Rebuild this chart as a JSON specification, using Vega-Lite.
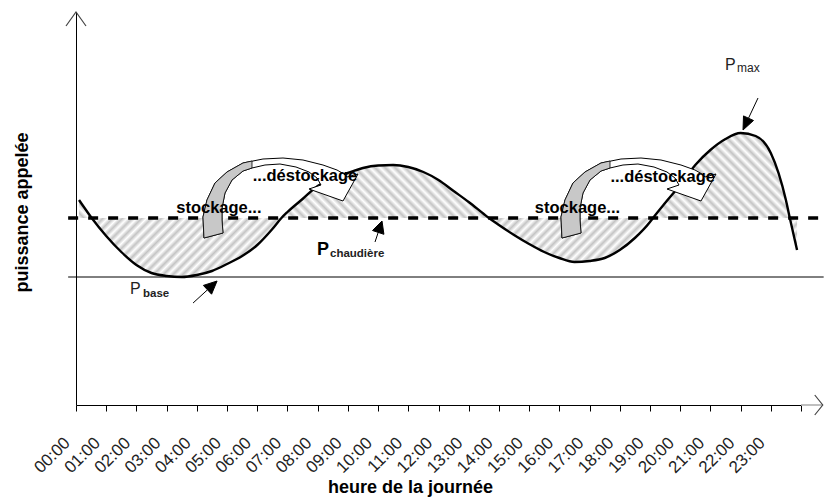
{
"$schema":"https://vega.github.io/schema/vega-lite/v6.json",
"width":725,"height":393,
"autosize":{"type":"none"},
"padding":{"left":76,"top":12,"right":23,"bottom":93},
"background":"white",
"config":{"view":{"stroke":null},"font":"Liberation Sans",
 "axisX":{"orient":"bottom","values":[0,1,2,3,4,5,6,7,8,9,10,11,12,13,14,15,16,17,18,19,20,21,22,23,24],"tickCount":30,
    "labelExpr":"datum.value < 24 ? (datum.value < 10 ? '0' : '') + datum.value + ':00' : ''",
    "labelAngle":-45,"labelAlign":"right","labelBaseline":"middle","labelFont":"Liberation Sans","labelFontSize":17,"labelColor":"#222","labelPadding":29,"labelOffset":-9,"labelOverlap":false,"labelFlush":false,"labelBound":false,
    "tickSize":6,"tickColor":"#000","tickWidth":1,"domainColor":"#000","domainWidth":1,"grid":false,
    "titleFont":"Liberation Sans","titleFontSize":18,"titleFontWeight":"bold","titleColor":"#000","titleX":334,"titleY":87,"titleBaseline":"alphabetic","titleAlign":"center"}},
"datasets":{"curve":[{"h":0.1,"v":205},{"h":0.52,"v":187},{"h":1,"v":169},{"h":1.5,"v":153},{"h":2,"v":140},{"h":2.5,"v":132},{"h":3,"v":129},{"h":3.5,"v":128},{"h":4,"v":130},{"h":4.5,"v":134},{"h":5,"v":141},{"h":5.5,"v":149},{"h":6,"v":160},{"h":6.5,"v":176},{"h":6.8,"v":187},{"h":7,"v":193},{"h":7.5,"v":206},{"h":8,"v":219},{"h":8.5,"v":226},{"h":9,"v":232},{"h":9.5,"v":237},{"h":10,"v":239.5},{"h":10.5,"v":240},{"h":11,"v":238},{"h":11.5,"v":233},{"h":12,"v":225},{"h":12.5,"v":214},{"h":13,"v":203},{"h":13.5,"v":191},{"h":13.67,"v":187},{"h":14,"v":180},{"h":14.5,"v":170},{"h":15,"v":161},{"h":15.5,"v":153},{"h":16,"v":147},{"h":16.5,"v":143},{"h":17,"v":144},{"h":17.5,"v":147},{"h":18,"v":155},{"h":18.5,"v":167},{"h":19,"v":183},{"h":19.1,"v":187},{"h":19.5,"v":202},{"h":20,"v":220},{"h":20.5,"v":240},{"h":21,"v":255},{"h":21.5,"v":266},{"h":22,"v":272},{"h":22.5,"v":269},{"h":23,"v":252},{"h":23.5,"v":205},{"h":23.63,"v":187},{"h":23.87,"v":155}]},
"layer":[
{"data":{"name":"curve"},
 "mark":{"type":"area","interpolate":"monotone","fill":{"gradient":"linear","x1":0,"y1":1,"x2":1.1029,"y2":0.8695,"stops":[
{"offset":0,"color":"#fff"},{"offset":0.00625,"color":"#c4c4c4"},{"offset":0.0125,"color":"#fff"},{"offset":0.01875,"color":"#c4c4c4"},{"offset":0.025,"color":"#fff"},{"offset":0.03125,"color":"#c4c4c4"},{"offset":0.0375,"color":"#fff"},{"offset":0.04375,"color":"#c4c4c4"},{"offset":0.05,"color":"#fff"},{"offset":0.05625,"color":"#c4c4c4"},{"offset":0.0625,"color":"#fff"},{"offset":0.06875,"color":"#c4c4c4"},{"offset":0.075,"color":"#fff"},{"offset":0.08125,"color":"#c4c4c4"},{"offset":0.0875,"color":"#fff"},{"offset":0.09375,"color":"#c4c4c4"},
{"offset":0.1,"color":"#fff"},{"offset":0.10625,"color":"#c4c4c4"},{"offset":0.1125,"color":"#fff"},{"offset":0.11875,"color":"#c4c4c4"},{"offset":0.125,"color":"#fff"},{"offset":0.13125,"color":"#c4c4c4"},{"offset":0.1375,"color":"#fff"},{"offset":0.14375,"color":"#c4c4c4"},{"offset":0.15,"color":"#fff"},{"offset":0.15625,"color":"#c4c4c4"},{"offset":0.1625,"color":"#fff"},{"offset":0.16875,"color":"#c4c4c4"},{"offset":0.175,"color":"#fff"},{"offset":0.18125,"color":"#c4c4c4"},{"offset":0.1875,"color":"#fff"},{"offset":0.19375,"color":"#c4c4c4"},
{"offset":0.2,"color":"#fff"},{"offset":0.20625,"color":"#c4c4c4"},{"offset":0.2125,"color":"#fff"},{"offset":0.21875,"color":"#c4c4c4"},{"offset":0.225,"color":"#fff"},{"offset":0.23125,"color":"#c4c4c4"},{"offset":0.2375,"color":"#fff"},{"offset":0.24375,"color":"#c4c4c4"},{"offset":0.25,"color":"#fff"},{"offset":0.25625,"color":"#c4c4c4"},{"offset":0.2625,"color":"#fff"},{"offset":0.26875,"color":"#c4c4c4"},{"offset":0.275,"color":"#fff"},{"offset":0.28125,"color":"#c4c4c4"},{"offset":0.2875,"color":"#fff"},{"offset":0.29375,"color":"#c4c4c4"},
{"offset":0.3,"color":"#fff"},{"offset":0.30625,"color":"#c4c4c4"},{"offset":0.3125,"color":"#fff"},{"offset":0.31875,"color":"#c4c4c4"},{"offset":0.325,"color":"#fff"},{"offset":0.33125,"color":"#c4c4c4"},{"offset":0.3375,"color":"#fff"},{"offset":0.34375,"color":"#c4c4c4"},{"offset":0.35,"color":"#fff"},{"offset":0.35625,"color":"#c4c4c4"},{"offset":0.3625,"color":"#fff"},{"offset":0.36875,"color":"#c4c4c4"},{"offset":0.375,"color":"#fff"},{"offset":0.38125,"color":"#c4c4c4"},{"offset":0.3875,"color":"#fff"},{"offset":0.39375,"color":"#c4c4c4"},
{"offset":0.4,"color":"#fff"},{"offset":0.40625,"color":"#c4c4c4"},{"offset":0.4125,"color":"#fff"},{"offset":0.41875,"color":"#c4c4c4"},{"offset":0.425,"color":"#fff"},{"offset":0.43125,"color":"#c4c4c4"},{"offset":0.4375,"color":"#fff"},{"offset":0.44375,"color":"#c4c4c4"},{"offset":0.45,"color":"#fff"},{"offset":0.45625,"color":"#c4c4c4"},{"offset":0.4625,"color":"#fff"},{"offset":0.46875,"color":"#c4c4c4"},{"offset":0.475,"color":"#fff"},{"offset":0.48125,"color":"#c4c4c4"},{"offset":0.4875,"color":"#fff"},{"offset":0.49375,"color":"#c4c4c4"},
{"offset":0.5,"color":"#fff"},{"offset":0.50625,"color":"#c4c4c4"},{"offset":0.5125,"color":"#fff"},{"offset":0.51875,"color":"#c4c4c4"},{"offset":0.525,"color":"#fff"},{"offset":0.53125,"color":"#c4c4c4"},{"offset":0.5375,"color":"#fff"},{"offset":0.54375,"color":"#c4c4c4"},{"offset":0.55,"color":"#fff"},{"offset":0.55625,"color":"#c4c4c4"},{"offset":0.5625,"color":"#fff"},{"offset":0.56875,"color":"#c4c4c4"},{"offset":0.575,"color":"#fff"},{"offset":0.58125,"color":"#c4c4c4"},{"offset":0.5875,"color":"#fff"},{"offset":0.59375,"color":"#c4c4c4"},
{"offset":0.6,"color":"#fff"},{"offset":0.60625,"color":"#c4c4c4"},{"offset":0.6125,"color":"#fff"},{"offset":0.61875,"color":"#c4c4c4"},{"offset":0.625,"color":"#fff"},{"offset":0.63125,"color":"#c4c4c4"},{"offset":0.6375,"color":"#fff"},{"offset":0.64375,"color":"#c4c4c4"},{"offset":0.65,"color":"#fff"},{"offset":0.65625,"color":"#c4c4c4"},{"offset":0.6625,"color":"#fff"},{"offset":0.66875,"color":"#c4c4c4"},{"offset":0.675,"color":"#fff"},{"offset":0.68125,"color":"#c4c4c4"},{"offset":0.6875,"color":"#fff"},{"offset":0.69375,"color":"#c4c4c4"},
{"offset":0.7,"color":"#fff"},{"offset":0.70625,"color":"#c4c4c4"},{"offset":0.7125,"color":"#fff"},{"offset":0.71875,"color":"#c4c4c4"},{"offset":0.725,"color":"#fff"},{"offset":0.73125,"color":"#c4c4c4"},{"offset":0.7375,"color":"#fff"},{"offset":0.74375,"color":"#c4c4c4"},{"offset":0.75,"color":"#fff"},{"offset":0.75625,"color":"#c4c4c4"},{"offset":0.7625,"color":"#fff"},{"offset":0.76875,"color":"#c4c4c4"},{"offset":0.775,"color":"#fff"},{"offset":0.78125,"color":"#c4c4c4"},{"offset":0.7875,"color":"#fff"},{"offset":0.79375,"color":"#c4c4c4"},
{"offset":0.8,"color":"#fff"},{"offset":0.80625,"color":"#c4c4c4"},{"offset":0.8125,"color":"#fff"},{"offset":0.81875,"color":"#c4c4c4"},{"offset":0.825,"color":"#fff"},{"offset":0.83125,"color":"#c4c4c4"},{"offset":0.8375,"color":"#fff"},{"offset":0.84375,"color":"#c4c4c4"},{"offset":0.85,"color":"#fff"},{"offset":0.85625,"color":"#c4c4c4"},{"offset":0.8625,"color":"#fff"},{"offset":0.86875,"color":"#c4c4c4"},{"offset":0.875,"color":"#fff"},{"offset":0.88125,"color":"#c4c4c4"},{"offset":0.8875,"color":"#fff"},{"offset":0.89375,"color":"#c4c4c4"},
{"offset":0.9,"color":"#fff"},{"offset":0.90625,"color":"#c4c4c4"},{"offset":0.9125,"color":"#fff"},{"offset":0.91875,"color":"#c4c4c4"},{"offset":0.925,"color":"#fff"},{"offset":0.93125,"color":"#c4c4c4"},{"offset":0.9375,"color":"#fff"},{"offset":0.94375,"color":"#c4c4c4"},{"offset":0.95,"color":"#fff"},{"offset":0.95625,"color":"#c4c4c4"},{"offset":0.9625,"color":"#fff"},{"offset":0.96875,"color":"#c4c4c4"},{"offset":0.975,"color":"#fff"},{"offset":0.98125,"color":"#c4c4c4"},{"offset":0.9875,"color":"#fff"},{"offset":0.99375,"color":"#c4c4c4"},
{"offset":1,"color":"#fff"}]}},
 "encoding":{
  "x":{"field":"h","type":"quantitative","scale":{"domain":[0,24],"nice":false,"zero":false},
   "axis":{"values":[0,1,2,3,4,5,6,7,8,9,10,11,12,13,14,15,16,17,18,19,20,21,22,23,24],"tickCount":30,"title":"heure de la journée"}},
  "y":{"field":"v","type":"quantitative","scale":{"domain":[187,393],"range":[206,0],"clamp":true,"nice":false,"zero":false},"axis":null},
  "y2":{"datum":187}}},
{"data":{"name":"curve"},
 "mark":{"type":"area","interpolate":"monotone","fill":{"gradient":"linear","x1":0,"y1":0,"x2":1.0748,"y2":0.0883,"stops":[
{"offset":0,"color":"#fff"},{"offset":0.00625,"color":"#c4c4c4"},{"offset":0.0125,"color":"#fff"},{"offset":0.01875,"color":"#c4c4c4"},{"offset":0.025,"color":"#fff"},{"offset":0.03125,"color":"#c4c4c4"},{"offset":0.0375,"color":"#fff"},{"offset":0.04375,"color":"#c4c4c4"},{"offset":0.05,"color":"#fff"},{"offset":0.05625,"color":"#c4c4c4"},{"offset":0.0625,"color":"#fff"},{"offset":0.06875,"color":"#c4c4c4"},{"offset":0.075,"color":"#fff"},{"offset":0.08125,"color":"#c4c4c4"},{"offset":0.0875,"color":"#fff"},{"offset":0.09375,"color":"#c4c4c4"},
{"offset":0.1,"color":"#fff"},{"offset":0.10625,"color":"#c4c4c4"},{"offset":0.1125,"color":"#fff"},{"offset":0.11875,"color":"#c4c4c4"},{"offset":0.125,"color":"#fff"},{"offset":0.13125,"color":"#c4c4c4"},{"offset":0.1375,"color":"#fff"},{"offset":0.14375,"color":"#c4c4c4"},{"offset":0.15,"color":"#fff"},{"offset":0.15625,"color":"#c4c4c4"},{"offset":0.1625,"color":"#fff"},{"offset":0.16875,"color":"#c4c4c4"},{"offset":0.175,"color":"#fff"},{"offset":0.18125,"color":"#c4c4c4"},{"offset":0.1875,"color":"#fff"},{"offset":0.19375,"color":"#c4c4c4"},
{"offset":0.2,"color":"#fff"},{"offset":0.20625,"color":"#c4c4c4"},{"offset":0.2125,"color":"#fff"},{"offset":0.21875,"color":"#c4c4c4"},{"offset":0.225,"color":"#fff"},{"offset":0.23125,"color":"#c4c4c4"},{"offset":0.2375,"color":"#fff"},{"offset":0.24375,"color":"#c4c4c4"},{"offset":0.25,"color":"#fff"},{"offset":0.25625,"color":"#c4c4c4"},{"offset":0.2625,"color":"#fff"},{"offset":0.26875,"color":"#c4c4c4"},{"offset":0.275,"color":"#fff"},{"offset":0.28125,"color":"#c4c4c4"},{"offset":0.2875,"color":"#fff"},{"offset":0.29375,"color":"#c4c4c4"},
{"offset":0.3,"color":"#fff"},{"offset":0.30625,"color":"#c4c4c4"},{"offset":0.3125,"color":"#fff"},{"offset":0.31875,"color":"#c4c4c4"},{"offset":0.325,"color":"#fff"},{"offset":0.33125,"color":"#c4c4c4"},{"offset":0.3375,"color":"#fff"},{"offset":0.34375,"color":"#c4c4c4"},{"offset":0.35,"color":"#fff"},{"offset":0.35625,"color":"#c4c4c4"},{"offset":0.3625,"color":"#fff"},{"offset":0.36875,"color":"#c4c4c4"},{"offset":0.375,"color":"#fff"},{"offset":0.38125,"color":"#c4c4c4"},{"offset":0.3875,"color":"#fff"},{"offset":0.39375,"color":"#c4c4c4"},
{"offset":0.4,"color":"#fff"},{"offset":0.40625,"color":"#c4c4c4"},{"offset":0.4125,"color":"#fff"},{"offset":0.41875,"color":"#c4c4c4"},{"offset":0.425,"color":"#fff"},{"offset":0.43125,"color":"#c4c4c4"},{"offset":0.4375,"color":"#fff"},{"offset":0.44375,"color":"#c4c4c4"},{"offset":0.45,"color":"#fff"},{"offset":0.45625,"color":"#c4c4c4"},{"offset":0.4625,"color":"#fff"},{"offset":0.46875,"color":"#c4c4c4"},{"offset":0.475,"color":"#fff"},{"offset":0.48125,"color":"#c4c4c4"},{"offset":0.4875,"color":"#fff"},{"offset":0.49375,"color":"#c4c4c4"},
{"offset":0.5,"color":"#fff"},{"offset":0.50625,"color":"#c4c4c4"},{"offset":0.5125,"color":"#fff"},{"offset":0.51875,"color":"#c4c4c4"},{"offset":0.525,"color":"#fff"},{"offset":0.53125,"color":"#c4c4c4"},{"offset":0.5375,"color":"#fff"},{"offset":0.54375,"color":"#c4c4c4"},{"offset":0.55,"color":"#fff"},{"offset":0.55625,"color":"#c4c4c4"},{"offset":0.5625,"color":"#fff"},{"offset":0.56875,"color":"#c4c4c4"},{"offset":0.575,"color":"#fff"},{"offset":0.58125,"color":"#c4c4c4"},{"offset":0.5875,"color":"#fff"},{"offset":0.59375,"color":"#c4c4c4"},
{"offset":0.6,"color":"#fff"},{"offset":0.60625,"color":"#c4c4c4"},{"offset":0.6125,"color":"#fff"},{"offset":0.61875,"color":"#c4c4c4"},{"offset":0.625,"color":"#fff"},{"offset":0.63125,"color":"#c4c4c4"},{"offset":0.6375,"color":"#fff"},{"offset":0.64375,"color":"#c4c4c4"},{"offset":0.65,"color":"#fff"},{"offset":0.65625,"color":"#c4c4c4"},{"offset":0.6625,"color":"#fff"},{"offset":0.66875,"color":"#c4c4c4"},{"offset":0.675,"color":"#fff"},{"offset":0.68125,"color":"#c4c4c4"},{"offset":0.6875,"color":"#fff"},{"offset":0.69375,"color":"#c4c4c4"},
{"offset":0.7,"color":"#fff"},{"offset":0.70625,"color":"#c4c4c4"},{"offset":0.7125,"color":"#fff"},{"offset":0.71875,"color":"#c4c4c4"},{"offset":0.725,"color":"#fff"},{"offset":0.73125,"color":"#c4c4c4"},{"offset":0.7375,"color":"#fff"},{"offset":0.74375,"color":"#c4c4c4"},{"offset":0.75,"color":"#fff"},{"offset":0.75625,"color":"#c4c4c4"},{"offset":0.7625,"color":"#fff"},{"offset":0.76875,"color":"#c4c4c4"},{"offset":0.775,"color":"#fff"},{"offset":0.78125,"color":"#c4c4c4"},{"offset":0.7875,"color":"#fff"},{"offset":0.79375,"color":"#c4c4c4"},
{"offset":0.8,"color":"#fff"},{"offset":0.80625,"color":"#c4c4c4"},{"offset":0.8125,"color":"#fff"},{"offset":0.81875,"color":"#c4c4c4"},{"offset":0.825,"color":"#fff"},{"offset":0.83125,"color":"#c4c4c4"},{"offset":0.8375,"color":"#fff"},{"offset":0.84375,"color":"#c4c4c4"},{"offset":0.85,"color":"#fff"},{"offset":0.85625,"color":"#c4c4c4"},{"offset":0.8625,"color":"#fff"},{"offset":0.86875,"color":"#c4c4c4"},{"offset":0.875,"color":"#fff"},{"offset":0.88125,"color":"#c4c4c4"},{"offset":0.8875,"color":"#fff"},{"offset":0.89375,"color":"#c4c4c4"},
{"offset":0.9,"color":"#fff"},{"offset":0.90625,"color":"#c4c4c4"},{"offset":0.9125,"color":"#fff"},{"offset":0.91875,"color":"#c4c4c4"},{"offset":0.925,"color":"#fff"},{"offset":0.93125,"color":"#c4c4c4"},{"offset":0.9375,"color":"#fff"},{"offset":0.94375,"color":"#c4c4c4"},{"offset":0.95,"color":"#fff"},{"offset":0.95625,"color":"#c4c4c4"},{"offset":0.9625,"color":"#fff"},{"offset":0.96875,"color":"#c4c4c4"},{"offset":0.975,"color":"#fff"},{"offset":0.98125,"color":"#c4c4c4"},{"offset":0.9875,"color":"#fff"},{"offset":0.99375,"color":"#c4c4c4"},
{"offset":1,"color":"#fff"}]}},
 "encoding":{
  "x":{"field":"h","type":"quantitative","scale":{"domain":[0,24],"nice":false,"zero":false},
   "axis":{"values":[0,1,2,3,4,5,6,7,8,9,10,11,12,13,14,15,16,17,18,19,20,21,22,23,24],"tickCount":30,"title":"heure de la journée"}},
  "y":{"field":"v","type":"quantitative","scale":{"domain":[0,187],"range":[393,206],"clamp":true,"nice":false,"zero":false},"axis":null},
  "y2":{"datum":187}}},
{"encoding":{
  "x":{"field":"h","type":"quantitative","scale":{"domain":[0,24],"nice":false,"zero":false},
   "axis":{"values":[0,1,2,3,4,5,6,7,8,9,10,11,12,13,14,15,16,17,18,19,20,21,22,23,24],"tickCount":30,"title":"heure de la journée"}},
  "y":{"field":"v","type":"quantitative","scale":{"domain":[0,393],"nice":false,"zero":false},
   "axis":{"orient":"left","ticks":false,"labels":false,"grid":false,"domainColor":"#000","domainWidth":1,
    "title":"puissance appelée","titleFont":"Liberation Sans","titleFontSize":18,"titleFontWeight":"bold","titleColor":"#000","titleX":-54,"titleY":200,"titleAngle":-90,"titleBaseline":"middle","titleAlign":"center"}}},
 "layer":[
  {"data":{"values":[{"h":-0.26,"h2":24.75,"v":128}]},"mark":{"type":"rule","color":"#000","strokeWidth":1},"encoding":{"x2":{"field":"h2"}}},
  {"data":{"values":[{"h":-0.26,"h2":24.75,"v":187}]},"mark":{"type":"rule","color":"#000","strokeWidth":3.3,"strokeDash":[10,10]},"encoding":{"x2":{"field":"h2"}}},
  {"data":{"values":[{"h":24,"h2":24.72,"v":0}]},"mark":{"type":"rule","color":"#aaa","strokeWidth":1.5},"encoding":{"x2":{"field":"h2"}}},
  {"data":{"name":"curve"},"mark":{"type":"line","interpolate":"monotone","color":"#000","strokeWidth":2.4}},
  {"data":{"values":[{"h":6.753,"v":215},{"h":18.604,"v":215}]},
   "mark":{"type":"point","shape":"M-76,48 L-77,27 L-73,10 L-65,-7 L-53,-18 L-37,-27 L-17,-31 L3,-32 L23,-30 L43,-25 L57,-20 L64,-16 L67,-13 L78,-16 L63,11 L29,-1 L41,-5 L37,-12 L29,-18 L16,-23 L0,-26 L-15,-25 L-28,-22 L-37,-19 L-48,-10 L-55,3 L-58,18 L-58,30 L-57,43 Z","size":4,"filled":true,"fill":"#fff","stroke":"#000","strokeWidth":1,"strokeJoin":"round","opacity":1}},
  {"data":{"values":[{"h":6.753,"v":215},{"h":18.604,"v":215}]},
   "mark":{"type":"point","shape":"M-76,48 L-77,27 L-73,10 L-65,-7 L-53,-18 L-37,-27 L-28,-29 L-28,-22 L-37,-19 L-48,-10 L-55,3 L-58,18 L-58,30 L-57,43 Z","size":4,"filled":true,"fill":"#c8c8c8","stroke":"#000","strokeWidth":0.8,"strokeJoin":"round","opacity":1}},
  {"data":{"values":[{"h":4.73,"v":197,"t":"stockage..."},{"h":7.58,"v":229.5,"t":"...déstockage"},{"h":16.6,"v":197,"t":"stockage..."},{"h":19.42,"v":228.5,"t":"...déstockage"}]},
   "mark":{"type":"text","font":"Liberation Sans","fontSize":16.5,"fontWeight":"bold","color":"#000","align":"center","baseline":"middle"},"encoding":{"text":{"field":"t"}}},
  {"data":{"values":[{"h":1.788,"v":111,"t":"P"},{"h":21.484,"v":335,"t":"P"}]},
   "mark":{"type":"text","font":"Liberation Sans","fontSize":16,"color":"#222","align":"left","baseline":"alphabetic"},"encoding":{"text":{"field":"t"}}},
  {"data":{"values":[{"h":7.978,"v":150,"t":"P"}]},
   "mark":{"type":"text","font":"Liberation Sans","fontSize":18,"fontWeight":"bold","color":"#000","align":"left","baseline":"alphabetic"},"encoding":{"text":{"field":"t"}}},
  {"data":{"values":[{"h":2.218,"v":108,"t":"base"},{"h":8.408,"v":148,"t":"chaudière"}]},
   "mark":{"type":"text","font":"Liberation Sans","fontSize":11.5,"fontWeight":"bold","color":"#222","align":"left","baseline":"alphabetic"},"encoding":{"text":{"field":"t"}}},
  {"data":{"values":[{"h":21.881,"v":333,"t":"max"}]},
   "mark":{"type":"text","font":"Liberation Sans","fontSize":12,"color":"#222","align":"left","baseline":"alphabetic"},"encoding":{"text":{"field":"t"}}},
  {"data":{"values":[{"h":4.67,"v":124}]},
   "mark":{"type":"point","shape":"M-24,22 L-9.6,8.8 M0,0 L-5.5,13.2 L-13.7,4.4 Z","size":4,"filled":true,"fill":"#000","stroke":"#000","strokeWidth":1,"opacity":1}},
  {"data":{"values":[{"h":10.13,"v":184}]},
   "mark":{"type":"point","shape":"M-7,21 L-3.8,11.4 M0,0 L1.9,13.3 L-9.5,9.5 Z","size":4,"filled":true,"fill":"#000","stroke":"#000","strokeWidth":1,"opacity":1}},
  {"data":{"values":[{"h":22.08,"v":275}]},
   "mark":{"type":"point","shape":"M15,-32 L5.5,-11.8 M0,0 L10.5,-9.5 L0.5,-14.1 Z","size":4,"filled":true,"fill":"#000","stroke":"#000","strokeWidth":1,"opacity":1}},
  {"data":{"values":[{"h":0,"v":393}]},
   "mark":{"type":"point","shape":"M-10,14 L0,0 L10,14","size":4,"filled":false,"stroke":"#444","strokeWidth":1.2,"opacity":1}},
  {"data":{"values":[{"h":24.72,"v":0}]},
   "mark":{"type":"point","shape":"M-8,-10 L0,0 L-8,10","size":4,"filled":false,"stroke":"#444","strokeWidth":1.2,"opacity":1}}
 ]}
],
"resolve":{"scale":{"y":"independent"}}
}
